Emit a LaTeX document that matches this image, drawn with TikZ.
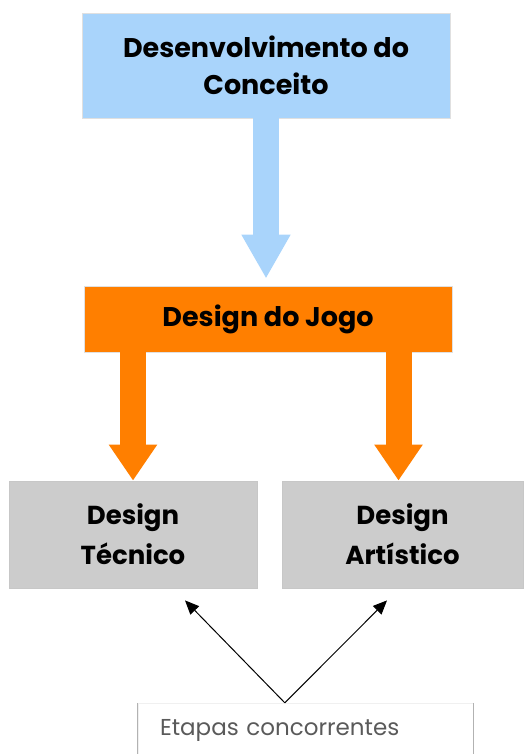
\documentclass[tikz,border=0pt]{standalone}
\usepackage{fontspec}
\setmainfont{Poppins}
\usetikzlibrary{arrows.meta,positioning,calc}
\definecolor{conceptblue}{RGB}{169,212,251}
\definecolor{gameorange}{RGB}{255,127,0}
\definecolor{stagegray}{RGB}{204,204,204}
\definecolor{labelgray}{RGB}{90,90,90}

\begin{document}
\begin{tikzpicture}[x=1pt, y=-1pt, font=\fontsize{23}{37}\selectfont,
      box/.style={line width=0.8pt, inner sep=4pt, align=center, font=\fontsize{27}{37}\selectfont\bfseries},
      fat/.style={line width=26pt, -{Triangle[length=#1,width=46pt]}},
      thin/.style={line width=1pt, -{Triangle[length=14pt,width=12pt]}}]
    \useasboundingbox (0,0) rectangle (529,754);
    \node[box, draw=black!12, fill=conceptblue, minimum width=368pt, minimum height=105pt] (concept)
      at (266,65.5) {Desenvolvimento do\\Conceito};
    \node[box, draw=black!12, fill=gameorange, minimum width=368pt, minimum height=66pt] (jogo)
      at (268,319) {Design do Jogo};
    \node[box, draw=black!22, fill=stagegray, minimum width=248pt, minimum height=107pt,
      font=\fontsize{26}{40}\selectfont\bfseries] (tec)
      at (133,534.5) {Design\\Técnico};
    \node[box, draw=black!22, fill=stagegray, minimum width=241pt, minimum height=107pt,
      font=\fontsize{26}{40}\selectfont\bfseries] (art)
      at (402.5,534.5) {Design\\Artístico};
    \node[draw=black!6, text=labelgray, text width=291pt, inner xsep=22pt, inner ysep=0pt,
      minimum width=335pt, minimum height=54pt, align=left] (stage)
      at (305.5,730) {Etapas concorrentes};
    \draw[black!30, line width=0.8pt] (stage.north west) -- (stage.south west);
    \draw[black!30, line width=0.8pt] (stage.north east) -- (stage.south east);
    % points where the connectors end
    \coordinate (artin) at ($(art.north)+(-4,0)$);
    \coordinate (meet) at ($(stage.north west)+(147,0)$);
    \coordinate (tecout) at ($(tec.south)+(52,12)$);
    \coordinate (artout) at ($(art.south)+(-15.5,12)$);
    \draw[fat=44pt, conceptblue, shorten >=7pt] (concept.south) -- (concept.south |- jogo.north);
    \draw[fat=36pt, gameorange] (jogo.south -| tec.north) -- (tec.north);
    \draw[fat=36pt, gameorange] (jogo.south -| artin) -- (artin);
    \draw[thin] (meet) -- (tecout);
    \draw[thin] (meet) -- (artout);
  \end{tikzpicture}
\end{document}
